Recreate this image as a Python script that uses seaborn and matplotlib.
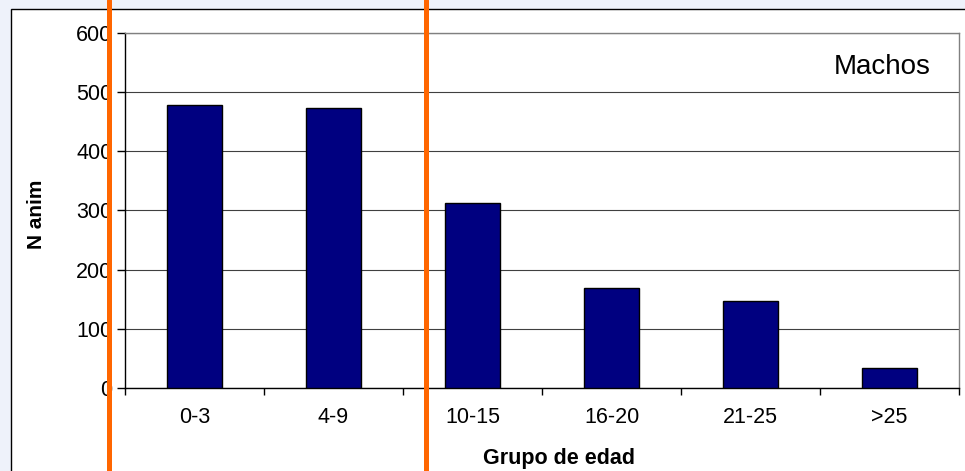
import matplotlib
matplotlib.use('Agg')
import matplotlib.pyplot as plt
import seaborn as sns
from matplotlib.lines import Line2D
from matplotlib.patches import Rectangle

# Datos del gráfico
grupos = ['0-3', '4-9', '10-15', '16-20', '21-25', '>25']
n_animales = [479, 473, 313, 168, 147, 34]
y_ticks = [0, 100, 200, 300, 400, 500, 600]

sns.set_style('white')
plt.rcParams['font.family'] = ['Liberation Sans', 'DejaVu Sans']
plt.rcParams['text.color'] = 'black'
plt.rcParams['axes.labelcolor'] = 'black'
plt.rcParams['xtick.color'] = 'black'
plt.rcParams['ytick.color'] = 'black'

W, H = 965, 471
fig = plt.figure(figsize=(W / 100, H / 100), dpi=100, facecolor='#EEF2FA')

# Recuadro blanco del área del gráfico
fig.add_artist(Rectangle((11 / W, -0.1), 1.1, 1.1 - 9 / H, transform=fig.transFigure,
                         facecolor='white', edgecolor='black', linewidth=1, zorder=-1))

# Área de trazado
ax = fig.add_axes([125 / W, 1 - 387.7 / H, (959 - 125) / W, (387.7 - 33.3) / H])
ax.set_facecolor('white')

sns.barplot(x=grupos, y=n_animales, color='#000080', edgecolor='black',
            linewidth=1, width=0.4, saturation=1, ax=ax, zorder=3)

ax.set_ylim(0, 600)
ax.set_xlim(-0.5, len(grupos) - 0.5)
ax.set_yticks(y_ticks)
ax.yaxis.grid(True, color='#404040', linewidth=0.8, zorder=0)
ax.set_axisbelow(True)

# Marcas del eje x en los límites de cada categoría
ax.set_xticks([i - 0.5 for i in range(len(grupos) + 1)], minor=True)
ax.tick_params(axis='x', which='major', bottom=True, length=0, pad=14, labelsize=15.5)
ax.tick_params(axis='x', which='minor', bottom=True, length=5, width=1, color='black',
               direction='out')
ax.tick_params(axis='y', left=True, length=6, width=1, color='black', direction='out',
               pad=3, labelsize=15.5)

for s in ['left', 'bottom']:
    ax.spines[s].set_color('black')
    ax.spines[s].set_linewidth(1)
for s in ['top', 'right']:
    ax.spines[s].set_color('#808080')
    ax.spines[s].set_linewidth(1)

ax.set_xlabel('Grupo de edad', fontsize=15.5, fontweight='bold')
ax.xaxis.set_label_coords(0.52, -0.17)
ax.set_ylabel('N anim', fontsize=15, fontweight='bold')
ax.yaxis.set_label_coords(-0.095, 0.49)

ax.text(0.966, 0.885, 'Machos', transform=ax.transAxes, ha='right', va='baseline',
        fontsize=20, color='black')

# Líneas verticales naranjas
for xp in [108.5, 426]:
    fig.add_artist(Line2D([xp / W, xp / W], [0, 1], transform=fig.transFigure,
                          color='#FF6600', linewidth=3.6, zorder=10))

fig.savefig('out.png', dpi=100, facecolor=fig.get_facecolor())
